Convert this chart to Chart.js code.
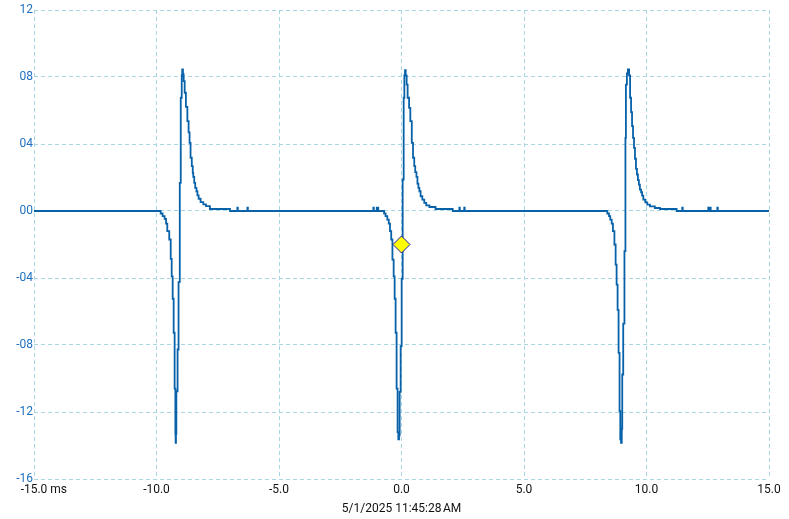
<!DOCTYPE html>
<html>
<head>
<meta charset="utf-8">
<title>Waveform</title>
<script src="https://cdn.jsdelivr.net/npm/chart.js@4"></script>
<style>
  html, body { margin: 0; padding: 0; background: #fff; }
  #wave { display: block; }
</style>
</head>
<body>
<canvas id="wave" width="789" height="519"></canvas>
<script>
// ================================
// Datos (ms, valor)
// ================================
const startTime = -15;
const endTime = 15;

const pulse1Time = [-9.83, -9.75, -9.67, -9.61, -9.56, -9.48, -9.42, -9.38, -9.34, -9.30,
  -9.26, -9.23, -9.22, -9.205, -9.19, -9.14, -9.10, -9.05, -9.01, -8.97,
  -8.95, -8.92, -8.89, -8.85, -8.80, -8.74, -8.69, -8.65, -8.61, -8.56,
  -8.52, -8.50, -8.46, -8.42, -8.37, -8.33, -8.28, -8.20, -8.09, -7.98,
  -7.82, -7.00, -6.70, -6.68, -6.29, -6.27];
const pulse1Value = [-0.015, -0.031, -0.047, -0.075, -0.12, -0.17, -0.286, -0.39, -0.524, -0.727,
  -1.06, -1.33, -1.384, -1.33, -1.076, -0.827, -0.425, 0.168, 0.676, 0.809,
  0.845, 0.815, 0.775, 0.706, 0.622, 0.536, 0.47, 0.407, 0.318, 0.268,
  0.228, 0.204, 0.168, 0.138, 0.118, 0.093, 0.073, 0.053, 0.039, 0.029,
  0.012, 0, 0.02, 0, 0.02, 0];

const pulse2Time = [-1.15, -1.13, -1.01, -0.95, -0.71, -0.65, -0.58, -0.52, -0.47, -0.42,
  -0.37, -0.32, -0.28, -0.24, -0.20, -0.16, -0.13, -0.10, -0.075, -0.034,
  0.007, 0.048, 0.089, 0.116, 0.143, 0.17, 0.21, 0.25, 0.31, 0.36,
  0.42, 0.47, 0.52, 0.56, 0.61, 0.65, 0.69, 0.73, 0.78, 0.85,
  0.93, 1.01, 1.14, 1.39, 2.09, 2.36, 2.38, 2.56, 2.58];
const pulse2Value = [0.02, 0, 0.02, 0, -0.015, -0.031, -0.051, -0.075, -0.12, -0.17,
  -0.29, -0.39, -0.524, -0.727, -1.06, -1.32, -1.364, -1.34, -1.08, -0.807,
  -0.405, 0.188, 0.676, 0.809, 0.841, 0.809, 0.755, 0.676, 0.616, 0.536,
  0.407, 0.318, 0.268, 0.232, 0.204, 0.164, 0.138, 0.118, 0.088, 0.068,
  0.048, 0.034, 0.024, 0.012, 0, 0.02, 0, 0.02, 0];

const pulse3Time = [8.40, 8.47, 8.52, 8.58, 8.63, 8.69, 8.74, 8.78, 8.82, 8.86,
  8.90, 8.93, 8.96, 8.99, 9.01, 9.05, 9.10, 9.14, 9.16, 9.20,
  9.24, 9.29, 9.33, 9.37, 9.41, 9.45, 9.49, 9.53, 9.57, 9.61,
  9.65, 9.69, 9.73, 9.78, 9.82, 9.87, 9.95, 10.03, 10.14, 10.34,
  10.55, 11.23, 11.46, 11.48, 12.52, 12.54, 12.60, 12.62, 12.89, 12.91];
const pulse3Value = [-0.015, -0.031, -0.051, -0.075, -0.12, -0.2, -0.32, -0.44, -0.59, -0.847,
  -1.195, -1.364, -1.384, -1.30, -0.976, -0.672, -0.24, 0.436, 0.755, 0.821,
  0.845, 0.809, 0.676, 0.59, 0.507, 0.436, 0.377, 0.312, 0.252, 0.218,
  0.184, 0.158, 0.128, 0.112, 0.092, 0.068, 0.052, 0.038, 0.028, 0.018,
  0.012, 0, 0.02, 0, 0.02, 0, 0.02, 0, 0.02, 0];

// Marcador amarillo
const markerTime = [0.0];
const markerValue = [-0.2];

// Ticks
const xTickValues = [-15, -10, -5, 0, 5, 10, 15];
const xTickLabels = ["-15.0", "-10.0", "-5.0", "0.0", "5.0", "10.0", "15.0"];
const xUnit = "ms";
const yTickValues = [-1.6, -1.2, -0.8, -0.4, 0, 0.4, 0.8, 1.2];
const yTickLabels = ["-16", "-12", "-08", "-04", "00", "04", "08", "12"];
const timeTitle = "5/1/2025 11:45:28\u202FAM";

// ================================
// Utilidades
// ================================
function toPoints(times, values) {
  return times.map((t, i) => ({ x: t, y: values[i] }));
}

const tracePoints = [{ x: startTime, y: 0 }]
  .concat(toPoints(pulse1Time, pulse1Value))
  .concat(toPoints(pulse2Time, pulse2Value))
  .concat(toPoints(pulse3Time, pulse3Value))
  .concat([{ x: endTime, y: 0 }]);

const gridColor = "#a9d6e3";

// Unidad "ms" a la derecha de la primera etiqueta
const unitLabel = {
  id: "unitLabel",
  afterDraw(chart) {
    const xs = chart.scales.x;
    const ctx = chart.ctx;
    const font = Chart.helpers.toFont(xs.options.ticks.font);
    ctx.save();
    ctx.font = font.string;
    const w = ctx.measureText(xTickLabels[0]).width;
    ctx.fillStyle = xs.options.ticks.color;
    ctx.textAlign = "left";
    ctx.textBaseline = "middle";
    const px = xs.getPixelForValue(xTickValues[0]) + w / 2;
    const py = xs.top + xs.options.ticks.padding + font.lineHeight / 2;
    ctx.fillText(" " + xUnit, px, py);
    ctx.restore();
  }
};

Chart.defaults.font.family = "Roboto, 'Noto Sans', sans-serif";
Chart.defaults.font.size = 12;

new Chart(document.getElementById("wave"), {
  type: "line",
  data: {
    datasets: [
      {
        data: toPoints(markerTime, markerValue),
        showLine: false,
        pointStyle: "rectRot",
        pointRadius: 8.5,
        backgroundColor: "#ffff00",
        borderColor: "#1a1aa0",
        borderWidth: 1,
        order: 0
      },
      {
        data: tracePoints,
        stepped: true,
        borderColor: "#0862aa",
        borderWidth: 1.8,
        pointRadius: 0,
        fill: false,
        order: 1
      }
    ]
  },
  options: {
    responsive: false,
    animation: false,
    layout: { padding: { left: 0, right: 20, top: 10, bottom: 0 } },
    plugins: { legend: { display: false }, tooltip: { enabled: false } },
    scales: {
      x: {
        type: "linear",
        min: startTime,
        max: endTime,
        afterBuildTicks: s => { s.ticks = xTickValues.map(v => ({ value: v })); },
        afterFit: s => { s.height = 40; },
        ticks: {
          color: "#111",
          padding: 4,
          maxRotation: 0,
          autoSkip: false,
          callback: (v, i) => xTickLabels[i]
        },
        grid: { color: gridColor, lineWidth: 1, drawTicks: false },
        border: { display: false, dash: [4, 3] },
        title: {
          display: true,
          text: timeTitle,
          color: "#111",
          font: { size: 12 },
          padding: { top: 4, bottom: 3 }
        }
      },
      y: {
        min: -1.6,
        max: 1.2,
        afterBuildTicks: s => { s.ticks = yTickValues.map(v => ({ value: v })); },
        afterFit: s => { s.width = 34; },
        ticks: {
          color: "#1f6fbf",
          padding: 1,
          autoSkip: false,
          callback: (v, i) => yTickLabels[i]
        },
        grid: { color: gridColor, lineWidth: 1, drawTicks: false },
        border: { display: false, dash: [4, 3] }
      }
    }
  },
  plugins: [unitLabel]
});
</script>
</body>
</html>
